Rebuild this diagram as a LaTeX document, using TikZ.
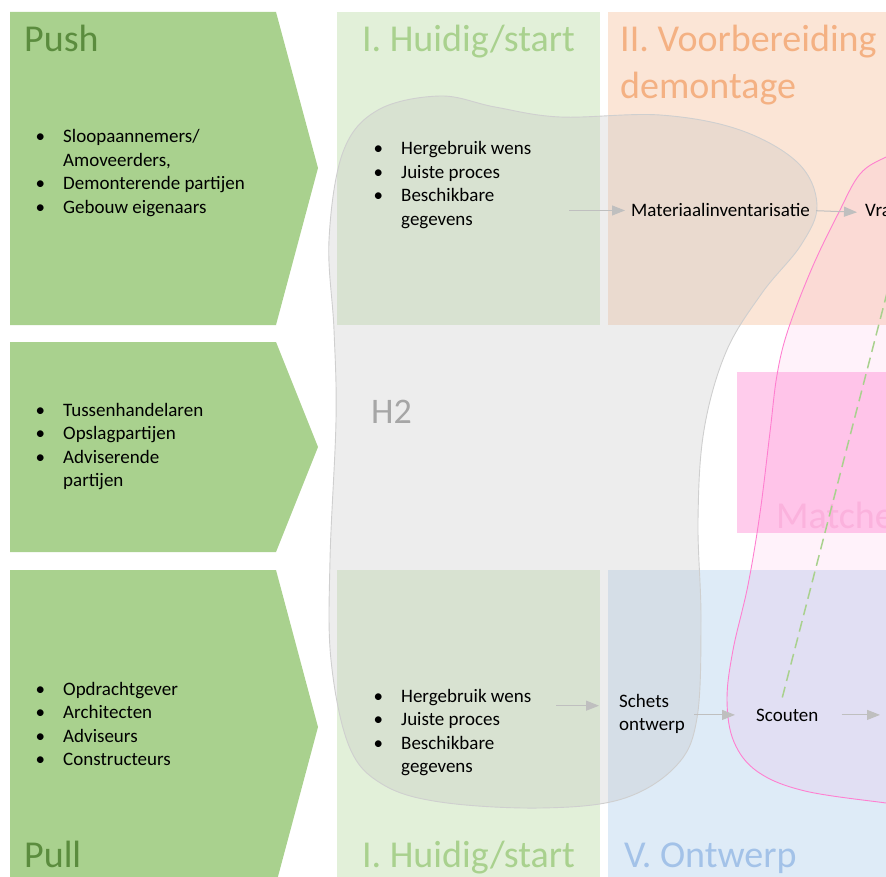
\documentclass[tikz,border=0pt]{standalone}
\usepackage{fontspec}
\setmainfont{Carlito}
\usetikzlibrary{arrows.meta}
\definecolor{chevron}{HTML}{A9D18E}
\definecolor{pushtxt}{HTML}{5B8C3E}
\definecolor{colI}{HTML}{E2F0D9}
\definecolor{colII}{HTML}{FBE5D6}
\definecolor{colV}{HTML}{DEEBF7}
\definecolor{ttlII}{HTML}{F4B183}
\definecolor{ttlV}{HTML}{A3C2E8}
\definecolor{matchbox}{HTML}{FFCCEC}
\definecolor{matchtxt}{HTML}{FBB8DF}
\definecolor{blobline}{HTML}{BFBFBF}
\definecolor{blobedge}{HTML}{CFCFCF}
\definecolor{pinkline}{HTML}{FF7FD0}
\definecolor{arrowgray}{HTML}{BFBFBF}
\newcommand{\itm}{\llap{\textbullet\hspace{18pt}}}
\begin{document}
\begin{tikzpicture}[x=1pt, y=-1pt,
  txt/.style={anchor=base west, inner sep = 0pt, align=left, font=\fontsize{19}{23.5}\selectfont},
  ttl/.style={anchor=base west, inner sep = 0pt, align=left, font=\fontsize{38}{46.4}\selectfont},
  flow/.style={draw=arrowgray, line width=1pt, -{Triangle[length=13pt, width=10pt]}},
  link/.style={draw=chevron, line width=1.5pt, dash pattern=on 11pt off 6pt}]
\useasboundingbox(0,0)rectangle(886,877);
\clip(0,0)rectangle(886,877);
% chevrons
\fill[chevron](10,12)--(276,12)--(318,168)--(276,325)--(10,325)--cycle;
\fill[chevron](10,342)--(276,342)--(318,447)--(276,552)--(10,552)--cycle;
\fill[chevron](10,570)--(276,570)--(318,727)--(276,884)--(10,884)--cycle;
% fasen
\fill[colI](337,12)rectangle(600,325);
\fill[colII](608,12)rectangle(900,325);
\fill[colI](337,570)rectangle(600,890);
\fill[colV](608,570)rectangle(900,890);
\fill[matchbox](737,372)rectangle(900,533);
\node[ttl, text=matchtxt](MT)at(776,528){Matchen};
% H2
\draw[draw=blobedge, line width=0.9pt, fill=blobline, fill opacity=0.28]
  plot[smooth cycle, tension=0.6] coordinates {(329,240) (343,152) (378,110) (440,96) (495,107)
  (560,117) (660,115) (740,130) (798,163) (817,205) (801,245) (762,293) (726,352) (704,430)
  (698,520) (701,620) (697,718) (676,766) (622,799) (540,808) (440,802) (382,784) (349,746)
  (331,660) (330,560) (336,420) (334,330)};
% match
\draw[draw=pinkline, line width=0.9pt, fill=pinkline, fill opacity=0.1]
  plot[smooth, tension=0.6] coordinates {(905,150) (886,157) (860,174) (838,214) (812,268)
  (788,330) (777,375) (770,432) (760,513) (748,585) (733,650) (727,700) (734,742) (758,772)
  (805,791) (886,803) (910,806)}--(990,806)--(990,150)--cycle;
% teksten
\node[ttl, text=pushtxt](PU)at(24,52){Push};
\node[ttl, text=pushtxt](PL)at(24,867){Pull};
\node[ttl, text=chevron, anchor=base](HS)at(468.5,52){I. Huidig/start};
\node[ttl, text=chevron, anchor=base](HE)at(468.5,867){I. Huidig/start};
\node[ttl, text=ttlII](VD)at(620,98.4){II. Voorbereiding\\demontage};
\node[ttl, text=ttlV](ON)at(624,867){V. Ontwerp};
\node[ttl, text=black!35, font=\fontsize{36}{44}\selectfont](H)at(371,423){H2};
%
\node[txt](A)at(63,213.5){\itm Sloopaannemers/\\Amoveerders,\\\itm Demonterende partijen\\\itm Gebouw eigenaars};
\node[txt](B)at(63,486.5){\itm Tussenhandelaren\\\itm Opslagpartijen\\\itm Adviserende\\partijen};
\node[txt](C)at(63,765.5){\itm Opdrachtgever\\\itm Architecten\\\itm Adviseurs\\\itm Constructeurs};
\node[txt](W)at(401,225.5){\itm Hergebruik wens\\\itm Juiste proces\\\itm Beschikbare\\gegevens};
\node[txt](W2)at(401,772.5){\itm Hergebruik wens\\\itm Juiste proces\\\itm Beschikbare\\gegevens};
\node[txt](MI)at(631,217){Materiaalinventarisatie};
\node[txt](VR)at(865,217){Vraag};
\node[txt](SO)at(619,730.5){Schets\\ontwerp};
\node[txt](SC)at(756,721){Scouten};
\coordinate(SE)at(880,714);
\coordinate(DT)at(902,235);
%
\draw[flow, shorten <= 38pt, shorten >= 6pt](W.east |- MI.west)--(MI.west);
\draw[flow, shorten <= 6pt, shorten >= 8pt](MI.east)--(VR.west);
\draw[flow, shorten <= 25pt, shorten >= 20pt]([yshift=8pt]SO.west -| W2.east)--([yshift=8pt]SO.west);
\draw[flow, shorten <= 9pt, shorten >= 21pt](SO.east |- SC.west)--(SC.west);
\draw[flow, shorten <= 23pt](SC.east)--(SC.east -| SE);
\draw[link]([xshift=-5pt, yshift=11pt]SC.north)--(DT);
\end{tikzpicture}
\end{document}
